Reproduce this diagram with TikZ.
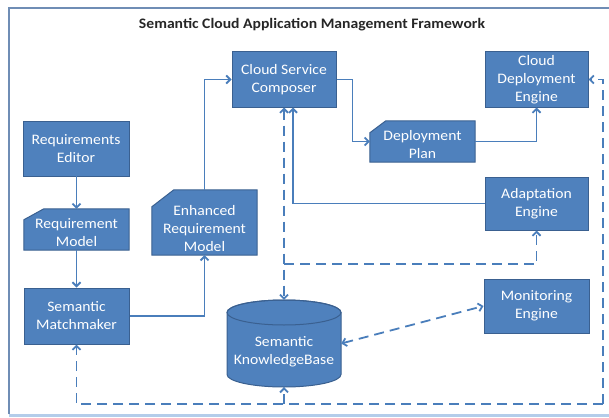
\documentclass[tikz,border=0pt]{standalone}
\usepackage{fontspec}
\setmainfont{Carlito}[FakeStretch=1.08]
\usetikzlibrary{arrows.meta,calc,backgrounds}
\definecolor{boxfill}{HTML}{4F81BD}
\definecolor{boxline}{HTML}{3A6090}
\definecolor{conn}{HTML}{4A7EBB}
\definecolor{frameline}{HTML}{6F8DB5}
\definecolor{framebottom}{HTML}{B4CDEA}
\tikzset{
  box/.style={draw=boxline, line width=1pt, fill=boxfill, text=white, align=center,
    font=\fontsize{14.5}{18}\selectfont, inner sep=0pt},
  card/.style={draw=none, fill=none, text=white, align=center,
    font=\fontsize{14.5}{18}\selectfont, inner sep=0pt},
  cardshape/.style={draw=boxline, line width=1pt, fill=boxfill},
  flow/.style={draw=conn, line width=1.8pt, -{Straight Barb[length=4pt,width=8pt]}},
  dflow/.style={flow, dash pattern=on 10pt off 6pt},
  dflow2/.style={dflow, {Straight Barb[length=4pt,width=8pt]}-{Straight Barb[length=4pt,width=8pt]}},
}
\begin{document}
\begin{tikzpicture}[x=1pt,y=-1pt]
\useasboundingbox (0,0) rectangle (609,417);
% frame
\draw[frameline, line width=1.5pt] (9,414) -- (9,8) -- (610,8);
\draw[framebottom, line width=3pt] (9,415) -- (610,415);
\node[font=\fontsize{14.5}{18}\selectfont\bfseries, text=black!85] (title) at (312,25) {Semantic Cloud Application Management Framework};

% nodes
\node[box, minimum width=106pt, minimum height=55pt] (edit) at (76,148.5) {Requirements\\Editor};
\node[card, minimum width=105pt, minimum height=41pt, text depth=0pt] (reqm) at (76.5,229.5) {};
\node[card] (reqmtxt) at (76.5,233) {Requirement\\Model};
\node[box, minimum width=105pt, minimum height=56pt] (match) at (76.5,316) {Semantic\\Matchmaker};
\node[card, minimum width=105pt, minimum height=65pt] (enh) at (204.5,222.5) {};
\node[card] (enhtxt) at (204.5,228.5) {Enhanced\\Requirement\\Model};
\node[box, minimum width=104pt, minimum height=55pt] (comp) at (284,79.5) {Cloud Service\\Composer};
\node[box, minimum width=103pt, minimum height=55pt] (cde) at (536.5,79.5) {Cloud\\Deployment\\Engine};
\node[card, minimum width=105pt, minimum height=41pt] (plan) at (422.5,141.5) {};
\node[card] (plantxt) at (422.5,145) {Deployment\\Plan};
\node[box, minimum width=103pt, minimum height=53pt] (adapt) at (536.5,203.5) {Adaptation\\Engine};
\node[box, minimum width=105pt, minimum height=54pt] (mon) at (536.5,306) {Monitoring\\Engine};
\node[card, minimum width=114pt, minimum height=87pt] (kb) at (284,343.5) {};
\node[card] (kbtxt) at (284,352) {Semantic\\KnowledgeBase};

\begin{scope}[on background layer]
  % card shapes with cut top-left corner
  \path[cardshape] ($(reqm.north west)+(0,11)$) -- ($(reqm.north west)+(20,0)$) -- (reqm.north east) -- (reqm.south east) -- (reqm.south west) -- cycle;
  \path[cardshape] ($(enh.north west)+(0,17)$) -- ($(enh.north west)+(22,0)$) -- (enh.north east) -- (enh.south east) -- (enh.south west) -- cycle;
  \path[cardshape] ($(plan.north west)+(0,12)$) -- ($(plan.north west)+(16,0)$) -- (plan.north east) -- (plan.south east) -- (plan.south west) -- cycle;
  % cylinder
  \path[cardshape] (227,312.5) -- (227,374.5)
     arc[start angle=180, end angle=360, x radius=57pt, y radius=12.5pt]
     -- (341,312.5)
     arc[start angle=0, end angle=180, x radius=57pt, y radius=12.5pt] -- cycle;
  \draw[boxline, line width=1pt] (284,312.5) ellipse[x radius=57pt, y radius=12.5pt];
\end{scope}

% solid connectors
\draw[flow] (edit.south) -- (reqm.south |- edit.south) -- (reqm.north);
\draw[flow] (reqm.south) -- (match.north);
\draw[flow] (match.east) -| (enh.south);
\draw[flow] (enh.north) |- (comp.west);
\draw[flow] (comp.east) -- ++(16,0) |- (plan.west);
\draw[flow] (plan.east) -| (cde.south);
\coordinate (cin) at ($(comp.south)+(9,0)$);
\draw[flow] (adapt.west) -| (cin);

% dashed connectors
\coordinate (j1) at (284,264);
\draw[dflow2] (comp.south) -- (kb.north);
\draw[dflow] (j1) -| (adapt.south);
\draw[dflow2] (kb.east) -- (mon.west);
\coordinate (br) at (603,404);
\draw[dflow] (br) -- (match.south |- br) -- (match.south);
\draw[dflow] (br) |- (cde.east);
\draw[dflow] (kb.south |- br) -- (kb.south);
\end{tikzpicture}
\end{document}
